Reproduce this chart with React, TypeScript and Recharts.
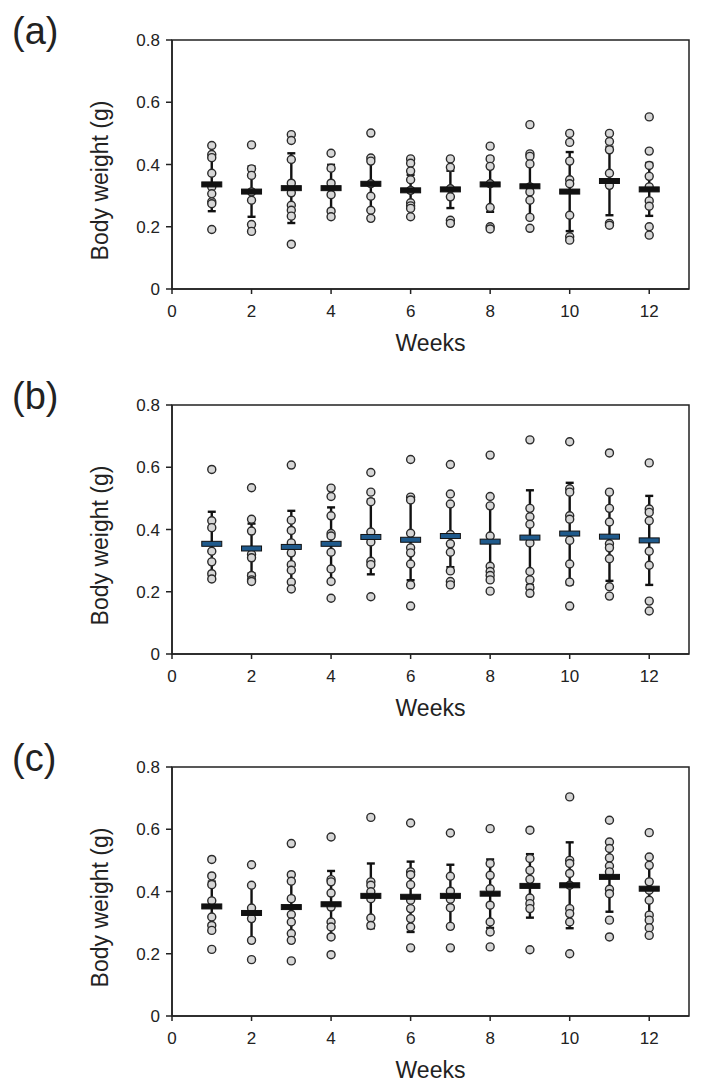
import {
  ErrorBar,
  Label,
  ReferenceArea,
  Scatter,
  ScatterChart,
  XAxis,
  YAxis,
} from "recharts";

/* ===== Data ===== */
const weeks = [1, 2, 3, 4, 5, 6, 7, 8, 9, 10, 11, 12];
const xTicks = [0, 2, 4, 6, 8, 10, 12];
const yTicks = [0, 0.2, 0.4, 0.6, 0.8];

// panel (a)
const pointsA: number[][] = [
  [0.461, 0.432, 0.422, 0.372, 0.328, 0.306, 0.28, 0.274, 0.191],
  [0.463, 0.386, 0.365, 0.312, 0.285, 0.207, 0.185],
  [0.496, 0.477, 0.416, 0.34, 0.309, 0.269, 0.253, 0.234, 0.144],
  [0.436, 0.388, 0.34, 0.303, 0.25, 0.232],
  [0.501, 0.421, 0.411, 0.338, 0.298, 0.253, 0.227],
  [0.418, 0.404, 0.379, 0.351, 0.317, 0.277, 0.267, 0.259, 0.232],
  [0.418, 0.391, 0.322, 0.296, 0.221, 0.211],
  [0.459, 0.418, 0.394, 0.338, 0.262, 0.2, 0.193],
  [0.528, 0.434, 0.426, 0.402, 0.328, 0.312, 0.285, 0.23, 0.195],
  [0.5, 0.471, 0.411, 0.351, 0.338, 0.237, 0.168, 0.157],
  [0.5, 0.474, 0.447, 0.372, 0.333, 0.211, 0.205],
  [0.553, 0.443, 0.397, 0.362, 0.328, 0.283, 0.266, 0.2, 0.173],
];
const meanA = [0.336, 0.313, 0.324, 0.324, 0.338, 0.317, 0.32, 0.336, 0.33, 0.313, 0.347, 0.32];
const sdA = [0.086, 0.081, 0.112, 0.075, 0.085, 0.05, 0.06, 0.088, 0.1, 0.127, 0.11, 0.085];

// panel (b)
const pointsB: number[][] = [
  [0.593, 0.428, 0.406, 0.33, 0.296, 0.258, 0.241],
  [0.534, 0.433, 0.395, 0.32, 0.309, 0.252, 0.238, 0.233],
  [0.607, 0.43, 0.397, 0.357, 0.325, 0.287, 0.269, 0.231, 0.209],
  [0.533, 0.506, 0.444, 0.387, 0.379, 0.327, 0.273, 0.233, 0.179],
  [0.583, 0.52, 0.489, 0.392, 0.36, 0.298, 0.287, 0.184],
  [0.625, 0.504, 0.495, 0.388, 0.341, 0.325, 0.289, 0.222, 0.154],
  [0.609, 0.514, 0.482, 0.384, 0.354, 0.327, 0.267, 0.233, 0.222],
  [0.639, 0.506, 0.476, 0.379, 0.282, 0.265, 0.252, 0.238, 0.202],
  [0.688, 0.468, 0.441, 0.417, 0.357, 0.265, 0.238, 0.213, 0.195],
  [0.682, 0.531, 0.52, 0.444, 0.433, 0.365, 0.289, 0.231, 0.154],
  [0.646, 0.52, 0.468, 0.424, 0.354, 0.341, 0.306, 0.216, 0.186],
  [0.614, 0.466, 0.455, 0.428, 0.33, 0.285, 0.17, 0.138],
];
const meanB = [0.354, 0.339, 0.344, 0.354, 0.376, 0.367, 0.379, 0.361, 0.374, 0.387, 0.377, 0.365];
const sdB = [0.103, 0.08, 0.116, 0.117, 0.12, 0.13, 0.1, 0.118, 0.152, 0.163, 0.142, 0.143];

// panel (c)
const pointsC: number[][] = [
  [0.503, 0.45, 0.422, 0.37, 0.318, 0.291, 0.275, 0.214],
  [0.486, 0.42, 0.347, 0.313, 0.243, 0.181],
  [0.554, 0.454, 0.433, 0.377, 0.326, 0.302, 0.265, 0.243, 0.177],
  [0.575, 0.438, 0.431, 0.395, 0.35, 0.302, 0.286, 0.254, 0.197],
  [0.638, 0.431, 0.42, 0.399, 0.377, 0.315, 0.291],
  [0.62, 0.463, 0.454, 0.422, 0.372, 0.345, 0.313, 0.286, 0.219],
  [0.588, 0.449, 0.401, 0.375, 0.348, 0.288, 0.219],
  [0.602, 0.49, 0.452, 0.409, 0.356, 0.302, 0.27, 0.222],
  [0.597, 0.506, 0.468, 0.439, 0.379, 0.361, 0.345, 0.213],
  [0.704, 0.5, 0.49, 0.458, 0.42, 0.345, 0.329, 0.302, 0.2],
  [0.629, 0.559, 0.538, 0.508, 0.482, 0.463, 0.407, 0.393, 0.308, 0.254],
  [0.589, 0.511, 0.484, 0.431, 0.404, 0.372, 0.324, 0.308, 0.283, 0.259],
];
const meanC = [0.352, 0.331, 0.35, 0.359, 0.386, 0.383, 0.386, 0.393, 0.418, 0.42, 0.447, 0.409];
const sdC = [0.08, 0.09, 0.085, 0.107, 0.104, 0.113, 0.1, 0.11, 0.102, 0.138, 0.112, 0.103];

/* ===== Styles ===== */
const FONT = "'Liberation Sans', Arial, sans-serif";
const INK = "#222";
const CHART_W = 702;
const CHART_H = 363;

type PanelProps = {
  tag: string;
  top: number;
  points: number[][];
  means: number[];
  sds: number[];
  meanFill: string;
};

const Dot = (p: any) => (
  <circle cx={p.cx} cy={p.cy} r={4} fill="#d6d6d6" stroke="#2a2a2a" strokeWidth={1.4} />
);

const Hidden = () => <g />;

function Panel({ tag, top, points, means, sds, meanFill }: PanelProps) {
  const pointData = weeks.flatMap((w, i) => points[i].map((v) => ({ x: w, y: v })));
  const meanData = weeks.map((w, i) => ({ x: w, y: means[i], err: sds[i] }));

  const MeanBar = (p: any) => (
    <rect
      x={p.cx - 10}
      y={p.cy - 2.5}
      width={20}
      height={5}
      fill={meanFill}
      stroke="#111"
      strokeWidth={1}
    />
  );

  return (
    <div style={{ position: "absolute", left: 0, top }}>
      <div
        style={{
          position: "absolute",
          left: 12,
          top: 10,
          fontSize: 38,
          lineHeight: "42px",
          color: INK,
          fontFamily: FONT,
        }}
      >
        {tag}
      </div>
      <ScatterChart
        width={CHART_W}
        height={CHART_H}
        margin={{ top: 40, right: 13, bottom: 0, left: 0 }}
      >
        <XAxis
          type="number"
          dataKey="x"
          domain={[0, 13]}
          ticks={xTicks}
          height={74}
          tickSize={5}
          tickMargin={11}
          axisLine={{ stroke: INK, strokeWidth: 1.5 }}
          tickLine={{ stroke: INK, strokeWidth: 1.5 }}
          tick={{ fill: INK, fontSize: 17 }}
        >
          <Label
            content={(p: any) => {
              const vb = p.viewBox;
              return (
                <text x={vb.x + vb.width / 2} y={vb.y + 62} textAnchor="middle" fontSize={23} fill={INK}>
                  Weeks
                </text>
              );
            }}
          />
        </XAxis>
        <YAxis
          type="number"
          dataKey="y"
          domain={[0, 0.8]}
          ticks={yTicks}
          width={172}
          tickSize={6}
          tickMargin={6}
          tickFormatter={(v: number) => (v === 0 ? "0" : v.toFixed(1))}
          axisLine={{ stroke: INK, strokeWidth: 1.5 }}
          tickLine={{ stroke: INK, strokeWidth: 1.5 }}
          tick={{ fill: INK, fontSize: 17 }}
        >
          <Label
            content={(p: any) => {
              const vb = p.viewBox;
              const cx = 100;
              const cy = vb.y + vb.height / 2 + 16;
              return (
                <text
                  x={cx}
                  y={cy}
                  transform={`rotate(-90 ${cx} ${cy})`}
                  textAnchor="middle"
                  dominantBaseline="central"
                  fontSize={23}
                  fill={INK}
                >
                  Body weight (g)
                </text>
              );
            }}
          />
        </YAxis>

        <ReferenceArea
          x1={0}
          x2={13}
          y1={0}
          y2={0.8}
          fill="none"
          stroke={INK}
          strokeWidth={1.5}
          ifOverflow="visible"
        />

        {/* error bars under the dots */}
        <Scatter data={meanData} shape={Hidden} isAnimationActive={false}>
          <ErrorBar
            dataKey="err"
            direction="y"
            width={4}
            stroke="#111"
            strokeWidth={2.4}
            isAnimationActive={false}
          />
        </Scatter>

        <Scatter data={pointData} shape={Dot} isAnimationActive={false} />

        <Scatter data={meanData} shape={MeanBar} isAnimationActive={false} />
      </ScatterChart>
    </div>
  );
}

export default function App() {
  return (
    <div
      style={{
        position: "absolute",
        left: 0,
        top: 0,
        width: 702,
        height: 1089,
        background: "#fff",
        fontFamily: FONT,
      }}
    >
      <Panel tag="(a)" top={0} points={pointsA} means={meanA} sds={sdA} meanFill="#111" />
      <Panel tag="(b)" top={365} points={pointsB} means={meanB} sds={sdB} meanFill="#1f5a8c" />
      <Panel tag="(c)" top={727} points={pointsC} means={meanC} sds={sdC} meanFill="#111" />
    </div>
  );
}
